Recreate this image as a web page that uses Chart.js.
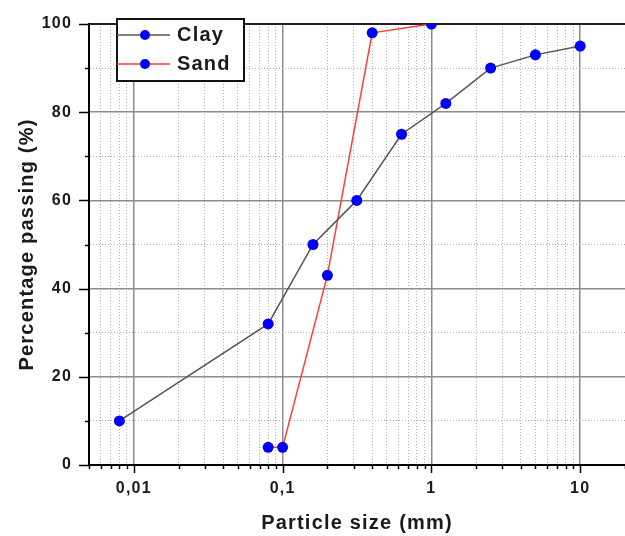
<!DOCTYPE html>
<html><head><meta charset="utf-8">
<script src="https://cdn.jsdelivr.net/npm/chart.js@4/dist/chart.umd.min.js"></script>
<style>html,body{margin:0;padding:0;background:#fff;}canvas{display:block;}</style>
</head><body>
<canvas id="c" width="625" height="536"></canvas>
<script>
// ---- data ----
const seriesNames = ['Clay', 'Sand'];
const claySize = [0.008, 0.08, 0.16, 0.315, 0.63, 1.25, 2.5, 5, 10];
const clayPassing = [10, 32, 50, 60, 75, 82, 90, 93, 95];
const sandSize = [0.08, 0.1, 0.2, 0.4, 1];
const sandPassing = [4, 4, 43, 98, 100];
const xTickValues = [0.01, 0.1, 1, 10];
const xTickLabels = ['0,01', '0,1', '1', '10'];
const yTickValues = [0, 20, 40, 60, 80, 100];
const yTickLabels = ['0', '20', '40', '60', '80', '100'];
const xTitle = 'Particle size (mm)';
const yTitle = 'Percentage passing (%)';
const X_MIN = 0.005, X_MAX = 20, Y_MIN = 0, Y_MAX = 100;

const FONT = '"Liberation Sans", Arial, sans-serif';
const TEXT = '#1a1a1a';
const MARK = '#0000ff';

function logGridValues(min, max) {
  const out = [];
  for (let e = -4; e <= 2; e++) for (let m = 1; m <= 9; m++) {
    const v = parseFloat((m * Math.pow(10, e)).toPrecision(3));
    if (v >= min * 0.999999 && v <= max * 1.000001) out.push(v);
  }
  return out;
}
function isDecade(v) { const l = Math.log10(v); return Math.abs(l - Math.round(l)) < 1e-9; }
function isMajorY(v) { return yTickValues.includes(v); }

function legendIcon(lineColor) {
  const c = document.createElement('canvas');
  c.width = 56; c.height = 12;
  const g = c.getContext('2d');
  g.strokeStyle = lineColor; g.lineWidth = 1.5;
  g.beginPath(); g.moveTo(0, 6); g.lineTo(53, 6); g.stroke();
  g.fillStyle = MARK; g.beginPath(); g.arc(28, 6, 5, 0, Math.PI * 2); g.fill();
  return c;
}
const lineColors = ['#555555', '#ff3b3b'];
const icons = lineColors.map(legendIcon);

function noPad(s) { s.paddingLeft = 0; s.paddingRight = 0; }

const spacingPlugin = {
  id: 'spacing',
  beforeLayout(chart) { chart.ctx.letterSpacing = '1.2px'; },
  beforeDraw(chart) {
    chart.ctx.letterSpacing = '1.2px';
    const lg = chart.legend, ca = chart.chartArea;
    const w = lg.right - lg.left, h = lg.bottom - lg.top;
    lg.left = ca.left + 25; lg.top = ca.top - 8;
    lg.right = lg.left + w; lg.bottom = lg.top + h;
  },
  afterDatasetsDraw(chart) {
    const ctx = chart.ctx;
    const xs = chart.scales.x, ys = chart.scales.y;
    ctx.save();
    ctx.strokeStyle = '#000'; ctx.lineWidth = 1.5;
    xs.ticks.forEach(t => {
      const px = Math.round(xs.getPixelForValue(t.value)) + 0.5;
      const len = isDecade(t.value) ? 8 : 4;
      ctx.beginPath(); ctx.moveTo(px, xs.top); ctx.lineTo(px, xs.top + len); ctx.stroke();
    });
    ys.ticks.forEach(t => {
      const py = Math.round(ys.getPixelForValue(t.value)) + 0.5;
      const len = isMajorY(t.value) ? 10 : 4;
      ctx.beginPath(); ctx.moveTo(ys.right - len, py); ctx.lineTo(ys.right, py); ctx.stroke();
    });
    const lg = chart.legend;
    const bx = lg.left + 3, by = lg.top + 3, bw = 127, bh = 62;
    ctx.fillStyle = '#fff'; ctx.fillRect(bx, by, bw, bh);
    ctx.strokeStyle = '#111'; ctx.lineWidth = 2; ctx.strokeRect(bx, by, bw, bh);
    ctx.restore();
    lg.draw();
  }
};

const toPts = (xs, ys) => xs.map((x, i) => ({x, y: ys[i]}));

new Chart(document.getElementById('c'), {
  type: 'scatter',
  data: {
    datasets: [
      { label: seriesNames[0], data: toPts(claySize, clayPassing), showLine: true,
        borderColor: lineColors[0], borderWidth: 1.5, tension: 0,
        pointRadius: 5.5, pointBackgroundColor: MARK, pointBorderColor: MARK, pointBorderWidth: 0 },
      { label: seriesNames[1], data: toPts(sandSize, sandPassing), showLine: true,
        borderColor: lineColors[1], borderWidth: 1.5, tension: 0,
        pointRadius: 5.5, pointBackgroundColor: MARK, pointBorderColor: MARK, pointBorderWidth: 0 }
    ]
  },
  options: {
    responsive: false, animation: false, devicePixelRatio: 1,
    layout: { autoPadding: false, padding: { top: 24, left: 0, right: 0, bottom: 0 } },
    plugins: {
      tooltip: { enabled: false },
      legend: {
        position: 'chartArea', align: 'start',
        labels: {
          usePointStyle: true, pointStyleWidth: 44, boxHeight: 12, padding: 9,
          color: TEXT, font: { family: FONT, size: 20, weight: 'bold' },
          generateLabels(chart) {
            const items = Chart.defaults.plugins.legend.labels.generateLabels(chart);
            items.forEach((it, i) => { it.pointStyle = icons[i]; });
            return items;
          }
        }
      }
    },
    scales: {
      x: {
        type: 'logarithmic', position: 'bottom', min: X_MIN, max: X_MAX,
        afterBuildTicks: s => { s.ticks = logGridValues(X_MIN, X_MAX).map(v => ({ value: v })); },
        afterFit: s => { s.height = 71; noPad(s); },
        ticks: {
          autoSkip: false, maxRotation: 0, minRotation: 0, padding: 14,
          color: TEXT, font: { family: FONT, size: 16, weight: 'bold' },
          callback: v => { const i = xTickValues.findIndex(t => Math.abs(t - v) < v * 1e-6); return i >= 0 ? xTickLabels[i] : ''; }
        },
        grid: {
          drawTicks: false,
          color: c => (c.tick && isDecade(c.tick.value)) ? '#8c8c8c' : '#b0b0b0',
          lineWidth: c => (c.tick && isDecade(c.tick.value)) ? 1.5 : 1
        },
        border: { display: true, color: '#000', width: 2,
          dash: c => (c.tick && !isDecade(c.tick.value)) ? [1, 2] : [] },
        title: { display: true, text: xTitle, color: TEXT,
          font: { family: FONT, size: 20, weight: 'bold' }, padding: { top: 0, bottom: 1 } }
      },
      x2: {
        type: 'linear', position: 'top', display: true, min: 0, max: 1,
        afterFit: s => { s.height = 0; noPad(s); },
        ticks: { display: false },
        grid: { display: false, drawOnChartArea: false, drawTicks: false },
        border: { display: true, color: '#222', width: 2 }
      },
      y: {
        type: 'linear', position: 'left', min: Y_MIN, max: Y_MAX,
        afterFit: s => { s.width = 89; s.paddingTop = 0; s.paddingBottom = 0; },
        ticks: {
          stepSize: 10, autoSkip: false, padding: 17,
          color: TEXT, font: { family: FONT, size: 16, weight: 'bold' },
          callback: v => { const i = yTickValues.indexOf(v); return i >= 0 ? yTickLabels[i] : ''; }
        },
        grid: {
          drawTicks: false,
          color: c => (c.tick && isMajorY(c.tick.value)) ? '#8c8c8c' : '#b0b0b0',
          lineWidth: c => (c.tick && isMajorY(c.tick.value)) ? 1.5 : 1
        },
        border: { display: true, color: '#000', width: 2,
          dash: c => (c.tick && !isMajorY(c.tick.value)) ? [1, 2] : [] },
        title: { display: true, text: yTitle, color: TEXT,
          font: { family: FONT, size: 20, weight: 'bold' }, padding: { top: 15, bottom: 0 } }
      }
    }
  },
  plugins: [spacingPlugin]
});
</script>
</body></html>
